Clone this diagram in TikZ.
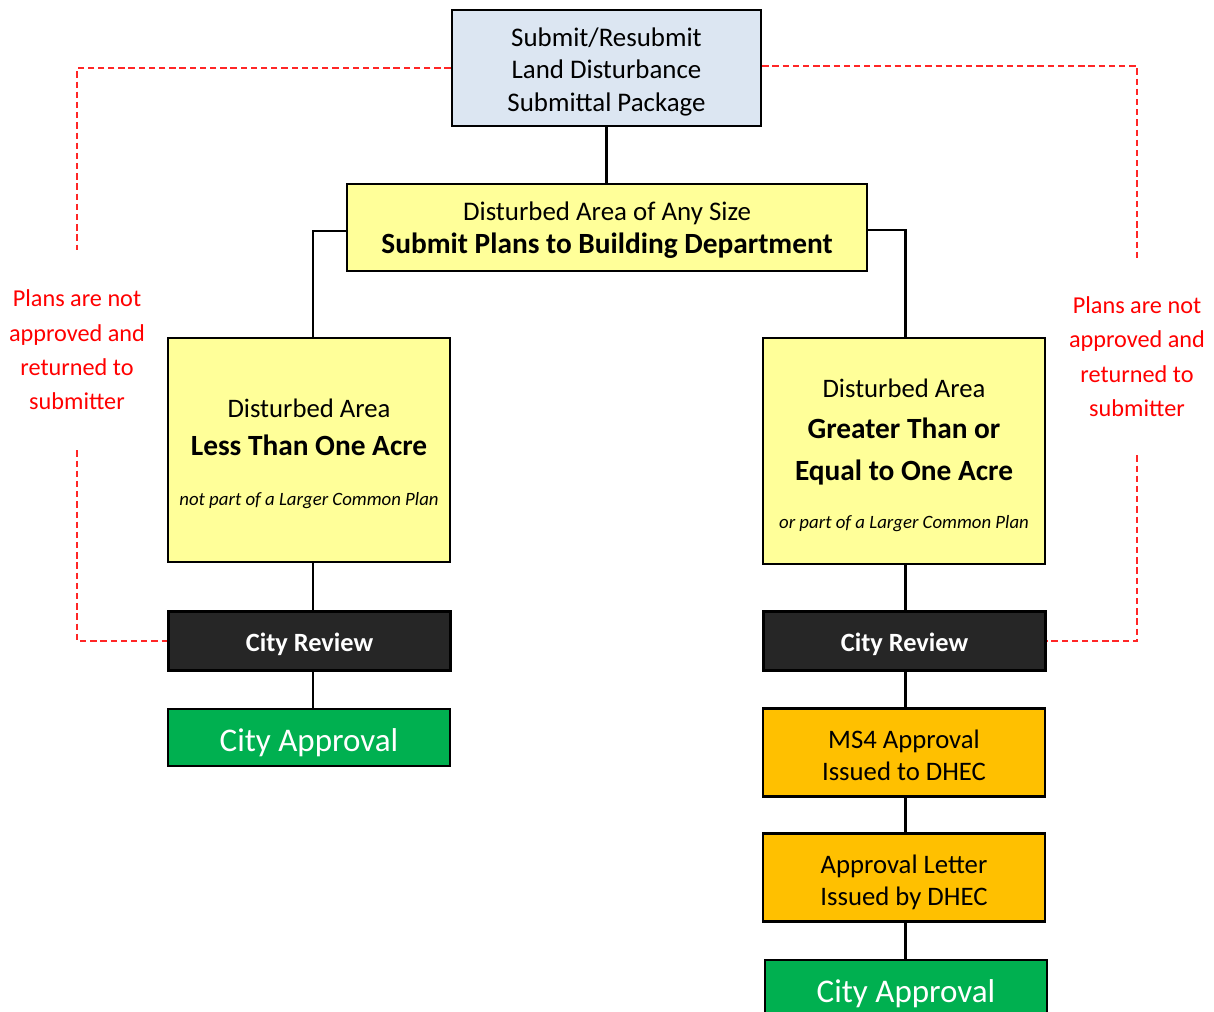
\documentclass[tikz,border=0pt]{standalone}
\usepackage{fontspec}
\setmainfont{Carlito}
\usepackage{tikz}
\usetikzlibrary{arrows.meta, positioning, calc}

\definecolor{boxblue}{HTML}{DCE6F2}
\definecolor{boxyellow}{HTML}{FFFF99}
\definecolor{boxorange}{HTML}{FFC000}
\definecolor{boxgreen}{HTML}{00B050}
\definecolor{boxdark}{HTML}{262626}

\newcommand{\fs}[2]{\fontsize{#1}{#2}\selectfont}

\begin{document}
\begin{tikzpicture}[x=0.2mm, y=-0.2mm,
    box/.style={draw=black, line width=1.4pt, align=center, inner sep=0pt},
    wide/.style={box, minimum width=5.64cm},
    review/.style={wide, fill=boxdark, text=white, minimum height=1.18cm, font=\fs{15}{18}\bfseries,
        execute at begin node=\rule{0pt}{14.2pt}},
    approval/.style={wide, fill=boxgreen, text=white, minimum height=1.14cm, font=\fs{18.8}{22},
        execute at begin node=\rule{0pt}{18.5pt}},
    dhec/.style={wide, fill=boxorange, minimum height=1.76cm, font=\fs{15.2}{18.2}},
    link/.style={line width=1.7pt},
    back/.style={red!85!white, line width=1.2pt, dash pattern=on 3.6pt off 2.2pt},
    note/.style={text=red, align=center, font=\fs{13.8}{19.6}}]
    \useasboundingbox (0,0) rectangle (1214,1012);

    \node[box, fill=boxblue, minimum width=6.18cm, minimum height=2.32cm,
          font=\fs{15.3}{18.7}] (submit) at (606.5,68)
          {\rule{0pt}{15pt}Submit/Resubmit\\Land Disturbance\\Submittal Package};
    \node[box, fill=boxyellow, minimum width=10.4cm, minimum height=1.74cm,
          font=\fs{15.3}{18.7}] (anysize) at (607,227.5)
          {\rule{0pt}{13.8pt}Disturbed Area of Any Size\\
           \fs{16.7}{18.7}\bfseries Submit Plans to Building Department};

    \node[wide, fill=boxyellow, minimum height=4.48cm, font=\fs{15.2}{22}] (less) at (309,450)
          {\rule{0pt}{14.5pt}Disturbed Area\\
           \fs{16.7}{22}\bfseries Less Than One Acre\\[6pt]
           \fs{10.7}{22}\itshape not part of a Larger Common Plan};
    \node[wide, fill=boxyellow, minimum height=4.52cm, font=\fs{15.2}{22}] (greater) at (904,451)
          {\rule{0pt}{15.8pt}Disturbed Area\\[1pt]
           \fs{16.7}{22}\bfseries Greater Than or\\[2pt]
           \fs{16.7}{22}\bfseries Equal to One Acre\\[5.5pt]
           \fs{10.7}{22}\itshape or part of a Larger Common Plan};

    \node[review] (lreview) at (309.5,641) {City Review};
    \node[approval] (lapproval) at (309,737.5) {City Approval};

    \node[review] (rreview) at (904.5,641) {City Review};
    \node[dhec] (ms4) at (904,752.5) {\rule{0pt}{13.6pt}MS4 Approval\\Issued to DHEC};
    \node[dhec] (letter) at (904,877.5) {\rule{0pt}{15.7pt}Approval Letter\\Issued by DHEC};
    \node[approval] (rapproval) at (906,988.5) {City Approval};

    \node[note, minimum height=4cm] (lnote) at (77,350) {Plans are not\\approved and\\returned to\\submitter};
    \node[note, minimum height=3.94cm] (rnote) at (1137,356.5) {Plans are not\\approved and\\returned to\\submitter};

    % main flow
    \coordinate (lspine) at (313,0);
    \coordinate (rspine) at (905,0);
    \draw[link] (submit.south) -- (submit.south |- anysize.north);
    \draw[link] (anysize.west |- 0,231) -| (less.north -| lspine);
    \draw[link] (anysize.east |- 0,230) -| (greater.north -| rspine);
    \draw[link] (less.south -| lspine) -- (lreview.north -| lspine);
    \draw[link] (lreview.south -| lspine) -- (lapproval.north -| lspine);
    \draw[link] (greater.south -| rspine) -- (rreview.north -| rspine);
    \draw[link] (rreview.south -| rspine) -- (ms4.north -| rspine);
    \draw[link] (ms4.south -| rspine) -- (letter.north -| rspine);
    \draw[link] (letter.south -| rspine) -- (rapproval.north -| rspine);

    % returned plans
    \draw[back] (submit.west |- 0,68) -| (lnote.north);
    \draw[back] (lnote.south) |- (lreview.west);
    \draw[back] (submit.east |- 0,66) -| (rnote.north);
    \draw[back] (rnote.south) |- (rreview.east);
\end{tikzpicture}
\end{document}
